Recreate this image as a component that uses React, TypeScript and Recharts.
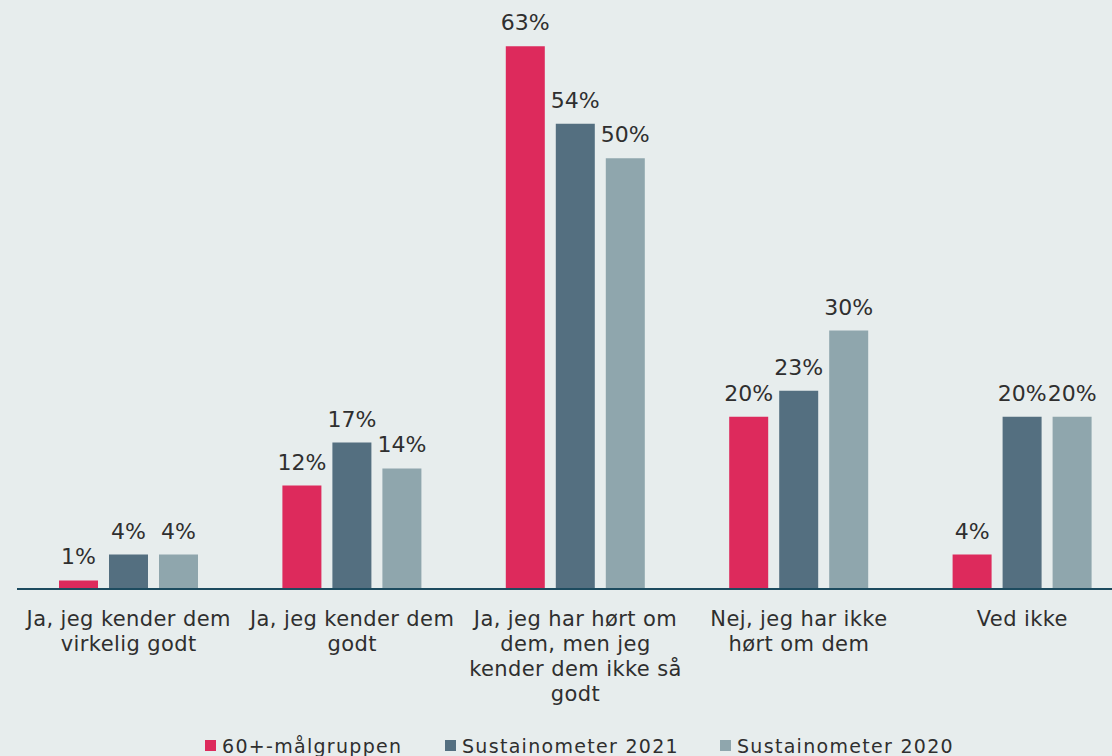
import { BarChart, Bar, XAxis, YAxis, LabelList } from 'recharts';

const categories = [
  'Ja, jeg kender dem\nvirkelig godt',
  'Ja, jeg kender dem\ngodt',
  'Ja, jeg har hørt om\ndem, men jeg\nkender dem ikke så\ngodt',
  'Nej, jeg har ikke\nhørt om dem',
  'Ved ikke',
];
const target60 = [1, 12, 63, 20, 4];
const susta2021 = [4, 17, 54, 23, 20];
const susta2020 = [4, 14, 50, 30, 20];

const SERIES = [
  { key: 'target60', name: '60+-målgruppen', color: '#dd2a5c', legendX: 205 },
  { key: 'susta2021', name: 'Sustainometer 2021', color: '#546f80', legendX: 445 },
  { key: 'susta2020', name: 'Sustainometer 2020', color: '#8fa6ad', legendX: 720 },
];

const data = categories.map((label, i) => ({
  label,
  target60: target60[i],
  susta2021: susta2021[i],
  susta2020: susta2020[i],
}));

const FONT = '"DejaVu Sans", Verdana, sans-serif';
const TEXT = '#2f2f2f';

function CategoryTick(props: any) {
  const { x, y, payload } = props;
  const lines = String(payload.value).split('\n');
  return (
    <text x={x} y={y + 37} textAnchor="middle" fill={TEXT} fontSize={21} letterSpacing={0.4} fontFamily={FONT}>
      {lines.map((line, i) => (
        <tspan key={i} x={x} dy={i === 0 ? 0 : 25}>
          {line}
        </tspan>
      ))}
    </text>
  );
}

export default function App() {
  return (
    <div
      style={{
        position: 'absolute',
        left: 0,
        top: 0,
        width: 1112,
        height: 756,
        overflow: 'hidden',
        background: '#e7eded',
        fontFamily: FONT,
      }}
    >
      <BarChart
        width={1134}
        height={756}
        data={data}
        margin={{ top: 29, right: 0, bottom: 37, left: 17 }}
        barSize={39}
        barGap={11}
      >
        <XAxis
          dataKey="label"
          interval={0}
          height={130}
          tickLine={false}
          tickSize={0}
          tickMargin={0}
          axisLine={{ stroke: '#1d4b5f', strokeWidth: 2 }}
          tick={<CategoryTick />}
        />
        <YAxis hide domain={[0, 65]} />
        {SERIES.map((s) => (
          <Bar key={s.key} dataKey={s.key} name={s.name} fill={s.color} isAnimationActive={false}>
            <LabelList
              dataKey={s.key}
              position="top"
              offset={16}
              formatter={(v: any) => `${v}%`}
              style={{ fill: TEXT, fontSize: 22, fontFamily: FONT }}
            />
          </Bar>
        ))}
      </BarChart>
      {SERIES.map((s) => (
        <div key={s.key}>
          <div
            style={{
              position: 'absolute',
              left: s.legendX,
              top: 740,
              width: 11,
              height: 11,
              background: s.color,
            }}
          />
          <span
            style={{
              position: 'absolute',
              left: s.legendX + 17,
              top: 737,
              fontSize: 19,
              lineHeight: '19px',
              letterSpacing: 1.3,
              color: TEXT,
              whiteSpace: 'nowrap',
            }}
          >
            {s.name}
          </span>
        </div>
      ))}
    </div>
  );
}
